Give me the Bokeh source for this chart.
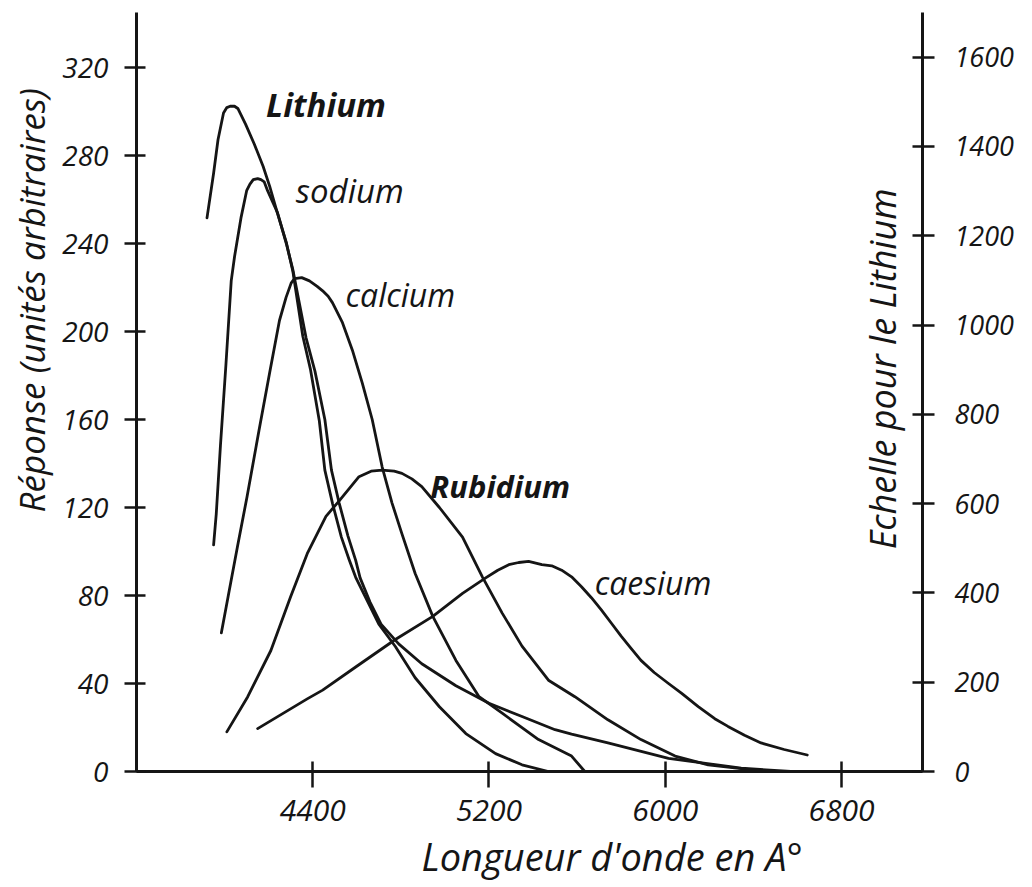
import math
from bokeh.plotting import figure
from bokeh.models import Range1d, LinearAxis, FixedTicker, Label, Title
from bokeh.embed import file_html
from bokeh.resources import INLINE

# ---- data (wavelength in Angstrom, response in arbitrary units) ----
lithium_x = [3920, 3950, 3970, 3995, 4010, 4025, 4045, 4060, 4095, 4135, 4175, 4205, 4240,
             4280, 4310, 4355, 4390, 4430, 4455, 4490, 4530, 4565, 4595, 4650, 4700, 4775,
             4865, 4975, 5095, 5230, 5350, 5470]
# lithium is read on the right-hand scale ("Echelle pour le Lithium")
lithium_y = [1240, 1340, 1415, 1475, 1487, 1490, 1490, 1485, 1450, 1405, 1355, 1310, 1250,
             1185, 1120, 975, 900, 785, 675, 600, 525, 475, 435, 380, 330, 280,
             210, 145, 85, 40, 15, 0]

sodium_x = [3950, 3962, 3981, 4006, 4030, 4045, 4075, 4100, 4115, 4130, 4150, 4165, 4180,
            4195, 4240, 4280, 4310, 4370, 4410, 4455, 4485, 4520, 4560, 4595, 4615, 4660,
            4710, 4790, 4895, 5050, 5200, 5350, 5500, 5575, 5740, 6015, 6345, 6570]
sodium_y = [103, 117, 148, 185, 223, 234, 252, 264, 267, 269, 269.5, 269, 268, 264, 254,
            240, 228, 197, 182, 160, 137, 122, 107, 96, 88, 77, 67, 58, 49, 39, 31, 25,
            19, 17, 13, 6, 1.5, 0]

calcium_x = [3985, 4016, 4058, 4102, 4156, 4204, 4249, 4279, 4302, 4317, 4350, 4385, 4420,
             4445, 4470, 4490, 4535, 4580, 4625, 4670, 4715, 4760, 4805, 4865, 4945, 5050,
             5155, 5260, 5425, 5575, 5635]
calcium_y = [63, 79.5, 102, 125, 155, 181, 205, 215.5, 222, 224, 224.5, 223, 220.5, 218.5,
             216, 213, 204, 191.5, 176.5, 160, 138.5, 122, 108, 90, 70.5, 50.5, 34, 26.5,
             14.5, 7, 0]

rubidium_x = [4010, 4105, 4210, 4300, 4375, 4460, 4520, 4610, 4665, 4715, 4770, 4805, 4850,
              4895, 4975, 5080, 5170, 5260, 5350, 5470, 5590, 5740, 5890, 6045, 6195, 6375,
              6480]
rubidium_y = [18, 34, 55, 79.5, 99, 116, 123, 134, 136.5, 137, 136.5, 135.5, 133, 129.5,
              120, 106.5, 88.5, 72, 57, 41.5, 34, 23.5, 14.5, 7, 3, 1, 0]

caesium_x = [4150, 4375, 4445, 4595, 4775, 4945, 5080, 5185, 5240, 5290, 5335, 5380, 5440,
             5485, 5530, 5575, 5620, 5665, 5710, 5755, 5800, 5845, 5890, 5950, 6015, 6075,
             6150, 6225, 6285, 6360, 6435, 6540, 6645]
caesium_y = [19.5, 33, 37, 47.5, 60, 70.5, 81, 88, 91.5, 94, 95, 95.5, 94, 93.5, 91.5, 88.5,
             84, 79, 73.5, 67.5, 61.5, 56, 50.5, 45, 40, 35.5, 29.5, 24, 20.5, 16.5, 13,
             10, 7.5]

x_ticks = [4400, 5200, 6000, 6800]
y_ticks = [0, 40, 80, 120, 160, 200, 240, 280, 320]
lith_ticks = [0, 200, 400, 600, 800, 1000, 1200, 1400, 1600]

curve_names = ["Lithium", "sodium", "calcium", "Rubidium", "caesium"]
name_x = [4188, 4323, 4549, 4934, 5680]
name_y = [303, 264, 217, 130, 86]
name_style = ["bold italic", "italic", "italic", "bold italic", "italic"]
name_size = ["33px", "33px", "32px", "31px", "32px"]

INK = "#151515"
FONT = "Open Sans"

p = figure(width=1030, height=885, output_backend="svg", toolbar_location=None,
           x_range=Range1d(3600, 7168), y_range=Range1d(0, 345),
           min_border_left=133, min_border_right=108, min_border_top=12,
           min_border_bottom=113)
p.extra_y_ranges = {"lith": Range1d(0, 1700)}
p.outline_line_color = None
p.grid.visible = False
p.background_fill_color = "white"
p.border_fill_color = "white"

def style_axis(ax, size, tin, tout, standoff):
    ax.axis_line_width = 3
    ax.axis_line_color = INK
    ax.major_tick_line_width = 2.5
    ax.major_tick_line_color = INK
    ax.major_tick_in = tin
    ax.major_tick_out = tout
    ax.minor_tick_line_color = None
    ax.major_label_text_font = FONT
    ax.major_label_text_font_style = "italic"
    ax.major_label_text_font_size = size
    ax.major_label_text_color = INK
    ax.major_label_standoff = standoff

xa = p.xaxis[0]
xa.ticker = FixedTicker(ticks=x_ticks)
style_axis(xa, "30px", 10, 16, 12)

ya = p.yaxis[0]
ya.ticker = FixedTicker(ticks=y_ticks)
style_axis(ya, "28px", 9, 12, 16)

ra = LinearAxis(y_range_name="lith", ticker=FixedTicker(ticks=lith_ticks))
style_axis(ra, "27px", 10, 12, 20)
p.add_layout(ra, "right")

p.add_layout(Title(text="Réponse (unités arbitraires)", align="left", offset=259,
                   standoff=10, text_font=FONT, text_font_style="italic",
                   text_font_size="35px", text_color=INK), "left")
p.add_layout(Title(text="Longueur d'onde en A°", align="left", offset=285,
                   standoff=8, text_font=FONT, text_font_style="italic",
                   text_font_size="38px", text_color=INK), "below")

lw = 2.8
p.line(lithium_x, lithium_y, y_range_name="lith", line_width=lw, line_color=INK,
       line_join="round", line_cap="round")
for xs, ys in [(sodium_x, sodium_y), (calcium_x, calcium_y),
               (rubidium_x, rubidium_y), (caesium_x, caesium_y)]:
    p.line(xs, ys, line_width=lw, line_color=INK, line_join="round", line_cap="round")

for n, x, y, st, sz in zip(curve_names, name_x, name_y, name_style, name_size):
    p.add_layout(Label(x=x, y=y, text=n, text_font=FONT, text_font_style=st,
                       text_font_size=sz, text_color=INK,
                       text_baseline="alphabetic", text_align="left"))

p.add_layout(Label(x=6987, y=183, text="Echelle pour le Lithium", angle=math.pi / 2,
                   text_font=FONT, text_font_style="italic", text_font_size="36px",
                   text_color=INK, text_align="center", text_baseline="middle"))

open("out.html", "w").write(file_html(p, INLINE))
